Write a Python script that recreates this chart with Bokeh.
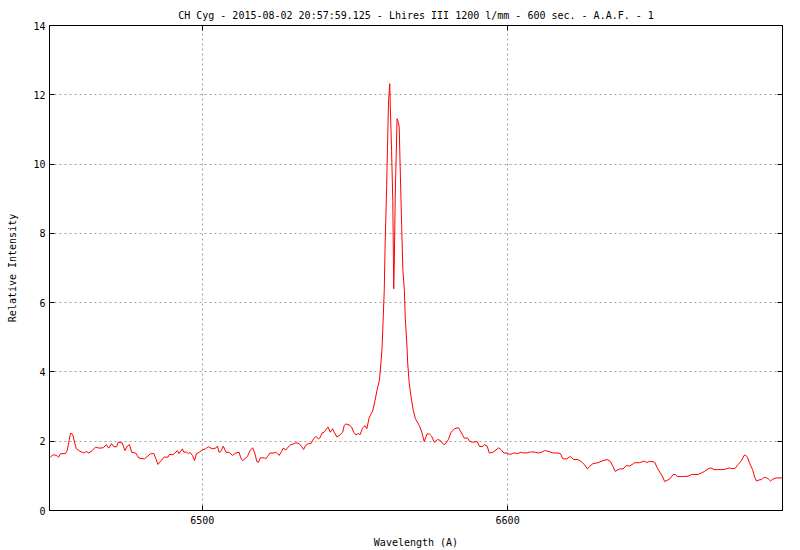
from bokeh.plotting import figure
from bokeh.models import LinearAxis, Range1d, FixedTicker
from bokeh.embed import file_html
from bokeh.resources import INLINE

# ---- data ----
wavelength = [
    6450.3, 6451.2, 6452.3, 6453.0, 6453.6, 6455.2, 6455.8, 6456.3, 6456.9, 6457.6,
    6458.2, 6458.8, 6459.6, 6460.7, 6461.2, 6462.1, 6462.9, 6464.0, 6465.1, 6466.2,
    6467.6, 6468.6, 6469.4, 6470.3, 6471.1, 6472.0, 6472.5, 6473.8, 6474.7, 6475.5,
    6476.2, 6476.9, 6478.2, 6479.3, 6481.1, 6483.1, 6484.2, 6484.8, 6485.5, 6486.4,
    6487.5, 6488.8, 6489.3, 6490.6, 6491.3, 6491.9, 6492.4, 6493.5, 6494.0, 6494.8,
    6495.5, 6496.0, 6496.8, 6497.5, 6498.1, 6499.0, 6500.1, 6501.1, 6502.0, 6503.3,
    6504.4, 6505.0, 6505.5, 6506.1, 6506.9, 6507.8, 6508.8, 6509.9, 6511.0, 6512.1,
    6512.6, 6513.2, 6514.3, 6514.8, 6515.7, 6516.5, 6517.2, 6517.9, 6518.4, 6519.0,
    6520.3, 6520.8, 6521.4, 6522.2, 6523.5, 6524.1, 6524.7, 6525.2, 6526.0, 6526.5,
    6527.4, 6528.1, 6529.0, 6530.1, 6530.7, 6531.7, 6532.3, 6533.2, 6533.9, 6534.7,
    6535.6, 6536.5, 6537.2, 6538.0, 6538.6, 6539.2, 6539.9, 6540.5, 6541.2, 6541.9,
    6542.7, 6543.2, 6544.1, 6545.2, 6546.0, 6546.5, 6547.0, 6548.1, 6548.9, 6549.6,
    6550.3, 6551.1, 6551.7, 6552.5, 6553.3, 6553.9, 6554.7, 6555.8, 6556.6, 6557.2,
    6558.0, 6558.5, 6558.9, 6559.3, 6559.6, 6559.9, 6560.4, 6560.7, 6561.0, 6561.4,
    6561.6, 6562.0, 6562.4, 6562.6, 6562.7, 6562.9, 6563.2, 6563.5, 6563.8, 6564.2,
    6564.5, 6564.9, 6565.3, 6565.7, 6566.2, 6566.5, 6567.0, 6567.3, 6567.8, 6568.4,
    6569.1, 6569.8, 6571.1, 6571.9, 6572.7, 6573.6, 6574.4, 6575.1, 6576.0, 6577.1,
    6578.0, 6579.1, 6579.8, 6580.6, 6581.5, 6582.6, 6583.9, 6584.5, 6585.3, 6585.8,
    6586.9, 6587.5, 6588.6, 6590.0, 6590.8, 6591.9, 6592.4, 6593.3, 6594.0, 6595.2,
    6596.2, 6597.1, 6597.9, 6598.8, 6599.8, 6600.6, 6601.5, 6602.2, 6603.3, 6604.2,
    6605.3, 6606.1, 6607.5, 6608.3, 6609.1, 6610.1, 6611.0, 6612.1, 6613.2, 6614.8,
    6616.5, 6617.3, 6618.1, 6619.4, 6620.5, 6621.6, 6623.0, 6624.1, 6625.2, 6626.1,
    6626.8, 6627.9, 6629.6, 6631.2, 6632.6, 6633.6, 6634.5, 6635.2, 6636.7, 6637.8,
    6638.9, 6639.9, 6641.0, 6641.6, 6643.2, 6643.8, 6644.9, 6645.4, 6646.5, 6648.1,
    6648.9, 6649.8, 6650.6, 6651.4, 6652.3, 6653.3, 6654.2, 6654.9, 6655.6, 6656.9,
    6659.1, 6660.2, 6662.4, 6663.4, 6664.5, 6665.6, 6666.5, 6667.6, 6668.7, 6670.6,
    6671.6, 6672.5, 6673.3, 6674.4, 6675.5, 6676.6, 6677.4, 6677.9, 6678.5, 6679.3,
    6680.2, 6680.9, 6681.5, 6682.6, 6683.1, 6684.0, 6684.8, 6685.3, 6686.1, 6686.9,
    6688.0, 6690.2,
]
intensity = [
    1.54, 1.61, 1.59, 1.54, 1.64, 1.64, 1.73, 1.97, 2.23, 2.20,
    1.97, 1.78, 1.73, 1.68, 1.66, 1.70, 1.66, 1.73, 1.83, 1.80,
    1.81, 1.90, 1.80, 1.93, 1.84, 1.84, 1.97, 1.95, 1.73, 1.86,
    1.90, 1.68, 1.66, 1.51, 1.49, 1.64, 1.64, 1.50, 1.33, 1.42,
    1.54, 1.54, 1.62, 1.61, 1.68, 1.73, 1.64, 1.78, 1.68, 1.69,
    1.64, 1.68, 1.59, 1.44, 1.64, 1.68, 1.75, 1.78, 1.84, 1.78,
    1.80, 1.86, 1.68, 1.70, 1.86, 1.68, 1.68, 1.59, 1.66, 1.68,
    1.52, 1.44, 1.52, 1.56, 1.73, 1.81, 1.66, 1.41, 1.39, 1.52,
    1.52, 1.49, 1.56, 1.66, 1.66, 1.68, 1.64, 1.59, 1.71, 1.80,
    1.75, 1.83, 1.90, 1.93, 1.96, 1.93, 1.88, 1.76, 1.88, 1.93,
    1.93, 2.07, 2.14, 2.07, 2.10, 2.23, 2.26, 2.33, 2.41, 2.26,
    2.36, 2.26, 2.12, 2.19, 2.26, 2.45, 2.50, 2.47, 2.41, 2.26,
    2.18, 2.22, 2.19, 2.38, 2.45, 2.36, 2.69, 2.87, 3.18, 3.46,
    3.75, 4.23, 4.71, 5.63, 6.35, 7.70, 9.38, 10.63, 11.79, 12.32,
    11.64, 10.39, 8.95, 7.31, 6.40, 7.20, 9.05, 10.20, 11.31, 11.21,
    11.07, 9.62, 8.23, 6.93, 6.35, 5.53, 4.81, 4.23, 3.66, 3.27,
    2.89, 2.65, 2.45, 2.26, 1.99, 2.21, 2.21, 2.15, 1.97, 2.05,
    2.02, 1.90, 1.94, 2.05, 2.26, 2.36, 2.39, 2.30, 2.17, 2.09,
    2.09, 2.00, 1.97, 1.99, 1.85, 1.85, 1.90, 1.86, 1.66, 1.68,
    1.75, 1.81, 1.75, 1.66, 1.66, 1.62, 1.64, 1.66, 1.64, 1.68,
    1.66, 1.66, 1.69, 1.69, 1.68, 1.66, 1.68, 1.73, 1.71, 1.66,
    1.66, 1.64, 1.49, 1.49, 1.56, 1.47, 1.47, 1.41, 1.32, 1.20,
    1.27, 1.35, 1.38, 1.44, 1.47, 1.42, 1.27, 1.13, 1.20, 1.20,
    1.30, 1.28, 1.34, 1.38, 1.38, 1.40, 1.43, 1.38, 1.42, 1.40,
    1.25, 1.11, 1.00, 0.84, 0.87, 0.93, 1.04, 1.04, 0.98, 0.98,
    0.99, 1.04, 1.04, 1.08, 1.13, 1.20, 1.23, 1.18, 1.18, 1.18,
    1.20, 1.23, 1.21, 1.21, 1.33, 1.44, 1.59, 1.60, 1.54, 1.35,
    1.18, 0.96, 0.85, 0.89, 0.89, 0.96, 0.94, 0.92, 0.85, 0.91,
    0.94, 0.94,
]
x_ticks = [6500, 6600]
y_ticks = [0, 2, 4, 6, 8, 10, 12, 14]
title_text = "CH Cyg - 2015-08-02 20:57:59.125 - Lhires III 1200 l/mm - 600 sec. - A.A.F. - 1"
x_label = "Wavelength (A)"
y_label = "Relative Intensity"

FONT = "DejaVu Sans Mono"
FS = "10px"

p = figure(width=800, height=550, output_backend="svg", toolbar_location=None,
           x_range=Range1d(6450, 6690), y_range=Range1d(0, 14),
           min_border_left=49, min_border_right=18, min_border_top=25,
           min_border_bottom=40, title=title_text)

p.title.text_font = FONT
p.title.text_font_size = FS
p.title.text_font_style = "normal"
p.title.text_color = "black"
p.title.align = "center"
p.title.vertical_align = "top"
p.title.standoff = 5

p.outline_line_color = "black"
p.outline_line_width = 1
p.background_fill_color = "white"
p.border_fill_color = "white"


def style_axis(ax, ticks, labels=True):
    ax.ticker = FixedTicker(ticks=ticks)
    ax.axis_line_color = "black"
    ax.major_tick_in = 5
    ax.major_tick_out = 0
    ax.minor_tick_in = 0
    ax.minor_tick_out = 0
    ax.major_tick_line_color = "black"
    ax.major_label_text_font = FONT
    if labels:
        ax.major_label_text_font_size = FS
        ax.major_label_text_color = "black"
    else:
        ax.major_label_text_font_size = "1px"
        ax.major_label_text_color = None
        ax.major_label_text_alpha = 0
    ax.axis_label_text_font = FONT
    ax.axis_label_text_font_size = FS
    ax.axis_label_text_font_style = "normal"
    ax.axis_label_text_color = "black"


style_axis(p.xaxis[0], x_ticks)
p.xaxis[0].axis_label = x_label
p.xaxis[0].major_label_standoff = 5
p.xaxis[0].axis_label_standoff = 10

style_axis(p.yaxis[0], y_ticks)
p.yaxis[0].axis_label = y_label
p.yaxis[0].major_label_standoff = 4
p.yaxis[0].axis_label_standoff = 12

top_ax = LinearAxis()
style_axis(top_ax, x_ticks, labels=False)
top_ax.major_label_standoff = 3
p.add_layout(top_ax, "above")

right_ax = LinearAxis()
style_axis(right_ax, y_ticks, labels=False)
right_ax.major_label_standoff = 0
p.add_layout(right_ax, "right")

for g, t in ((p.xgrid[0], x_ticks), (p.ygrid[0], y_ticks)):
    g.ticker = FixedTicker(ticks=t)
    g.grid_line_color = "#a0a0a0"
    g.grid_line_dash = "2 3"
    g.grid_line_width = 1

p.line(wavelength, intensity, line_color="#ff0000", line_width=1)

open("out.html", "w").write(file_html(p, INLINE))
